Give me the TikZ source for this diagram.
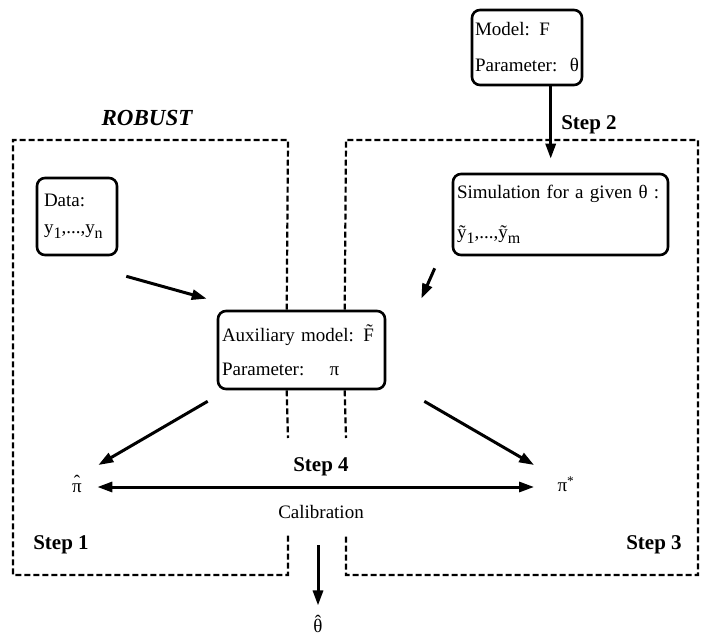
\documentclass[tikz,border=0pt]{standalone}
\usepackage{fontspec}
\setmainfont{Liberation Serif}
\usetikzlibrary{arrows.meta,calc}
\newcommand{\sbs}[1]{\raisebox{-5pt}{\fontsize{16}{16}\selectfont #1}}
\newcommand{\hatted}[2][4pt]{\leavevmode\setbox0\hbox{#2}\rlap{\hbox to\wd0{\hss\raisebox{#1}{ˆ}\hss}}\box0}
\newcommand{\acchat}[1]{\accent"02C6 #1}
\begin{document}
\begin{tikzpicture}[x=1pt,y=-1pt,
  box/.style={draw,line width=2.6pt,rounded corners=8pt,inner xsep=4pt,align=left,font=\fontsize{19}{22}\selectfont},
  frame/.style={line width=2.2pt,dash pattern=on 6pt off 3pt},
  arr/.style={line width=3pt,-{Triangle[length=15pt,width=10pt]}},
  lbl/.style={font=\fontsize{21}{24}\selectfont\bfseries},
  txt/.style={font=\fontsize{19}{22}\selectfont}]
\useasboundingbox (0,0) rectangle (704,637);
% boxes
\node[box,minimum width=110pt,minimum height=75pt,text width=104pt,inner xsep=3pt] (model) at (527,47.5) {Model: F\\[14pt]\mbox{Parameter:\ \ θ}};
\node[box,minimum width=80pt,minimum height=77pt,text width=66pt,inner xsep=7pt] (data) at (77,216.5) {Data:\\[5pt]y\sbs{1},...,y\sbs{n}};
\node[box,minimum width=215pt,minimum height=81pt,text width=207pt] (sim) at (560.5,214.5) {Simulation for a given θ :\\[18pt]\~{y}\sbs{1},...,\~{y}\sbs{m}};
\node[box,minimum width=167pt,minimum height=78pt,text width=159pt] (aux) at (301.5,350) {Auxiliary model: \~{F}\\[12pt]Parameter:\ \ \ \ π};
% dashed frames
\draw[frame] ($(aux.north west)+(70,0)$) -- (288,140) -- (13,140) -- (13,575) -- (288,575) -- (288,535);
\draw[frame] ($(aux.south west)+(70,0)$) -- (288,438);
\draw[frame] ($(aux.north west)+(128,0)$) -- (346,140) -- (698,140) -- (698,575) -- (346,575) -- (346,535);
\draw[frame] ($(aux.south west)+(128,0)$) -- (346,438);
% labels
\node[font=\fontsize{23}{26}\selectfont\bfseries\itshape] (robust) at (147,118) {ROBUST};
\node[lbl] (s2) at (589,125) {Step 2};
\node[lbl] (s1) at (61,545) {Step 1};
\node[lbl] (s3) at (654,545) {Step 3};
\node[lbl] (s4) at (321,467) {Step 4};
\node[txt] (cal) at (321,512) {Calibration};
\node[txt] (pihat) at (77,484) {\hatted{π}};
\node[txt] (pistar) at (566,484) {π\textsuperscript{*}};
\node[txt] (thetahat) at (318,624) {\acchat{θ}};
% arrows
\draw[arr] ($(model.south west)+(80,0)$) -- ($(sim.north west)+(99,-14)$);
\draw[arr] ($(data.south east)+(8,20)$) -- ($(aux.north west)+(-10,-11)$);
\draw[arr] ($(sim.south west)+(-17,12)$) -- ($(aux.north east)+(35,-11)$);
\draw[arr] ($(aux.south west)+(-9,11)$) -- ($(pihat.east)+(13,-19)$);
\draw[arr] ($(aux.south east)+(38,11)$) -- ($(pistar.west)+(-20,-19)$);
\draw[line width=3pt,{Triangle[length=15pt,width=10pt]}-{Triangle[length=15pt,width=10pt]}] ($(pihat.east)+(12,3)$) -- ($(pistar.west)+(-20,3)$);
\draw[arr] ($(cal.south)+(-3,23)$) -- ($(thetahat.north)+(0,-6)$);
\end{tikzpicture}
\end{document}
